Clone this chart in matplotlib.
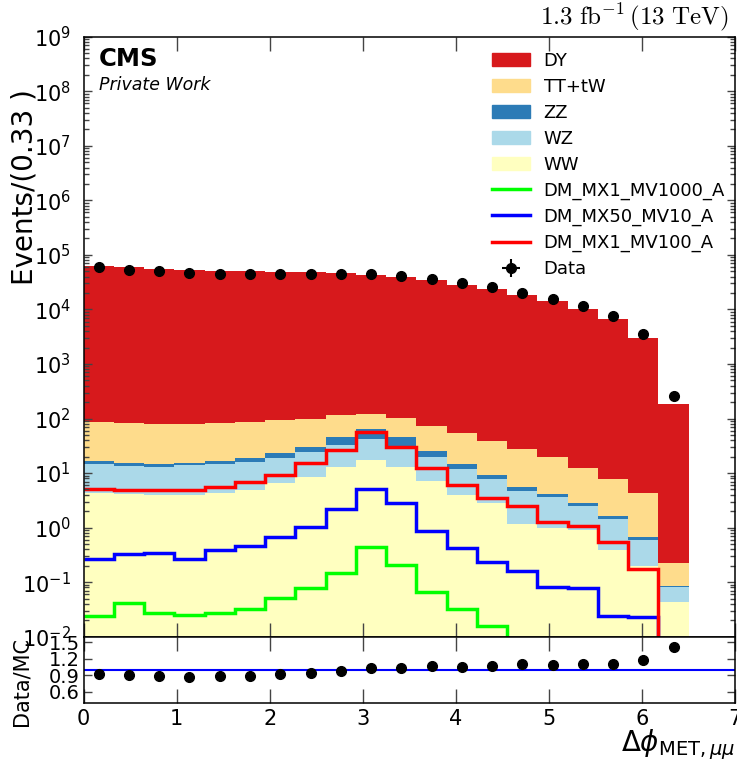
import numpy as np
import matplotlib
matplotlib.use('Agg')
import matplotlib.pyplot as plt
from matplotlib.patches import Patch
from matplotlib.lines import Line2D
from matplotlib.ticker import LogLocator, NullFormatter, FixedLocator

# binning of delta phi(MET, mumu)
edges = np.linspace(0.0, 6.5, 21)

# stacked backgrounds (events / bin)
dy = [63700, 59100, 55800, 53800, 50800, 50500, 48800, 47500, 46400, 42700,
      39500, 33900, 28450, 23460, 18270, 14480, 10290, 6740, 2956, 184]
tt = [68.4, 66.5, 63.4, 64.5, 67.4, 68.9, 69.6, 68.5, 69.0, 59.6,
      55.7, 47.7, 38.8, 29.5, 22.0, 15.6, 9.6, 6.3, 3.6, 0.14]
zz = [1.9, 1.6, 1.5, 1.6, 2.1, 2.4, 3.9, 6.2, 11.8, 20.7,
      14.0, 5.9, 2.7, 1.5, 0.86, 0.54, 0.31, 0.17, 0.088, 0.004]
wz = [10.3, 9.3, 9.2, 9.9, 10.1, 11.3, 12.6, 15.7, 20.5, 25.3,
      18.3, 12.25, 8.04, 4.91, 3.53, 2.61, 1.63, 1.07, 0.387, 0.037]
ww = [4.4, 4.2, 3.9, 4.0, 4.4, 4.9, 6.5, 8.6, 12.7, 17.4,
      12.7, 7.15, 3.96, 2.79, 1.16, 0.98, 0.89, 0.389, 0.198, 0.044]

# signal samples
sig_mx1_mv1000 = [0.0237, 0.041, 0.0269, 0.0247, 0.0276, 0.0327, 0.052, 0.077, 0.149, 0.448,
                  0.206, 0.065, 0.0322, 0.0157, 0, 0, 0, 0, 0, 0]
sig_mx50_mv10 = [0.262, 0.328, 0.347, 0.27, 0.389, 0.467, 0.664, 1.04, 2.16, 5.17,
                 2.79, 0.879, 0.429, 0.238, 0.16, 0.0827, 0.078, 0.024, 0.0233, 0]
sig_mx1_mv100 = [5.18, 4.96, 4.9, 4.96, 5.47, 6.76, 9.2, 15.1, 26.5, 55.8,
                 30.5, 12.2, 5.96, 3.44, 2.49, 1.28, 1.09, 0.537, 0.174, 0]

# observed data
data = [59300, 53600, 50000, 47200, 45200, 45200, 45200, 45200, 45300, 44000,
        41200, 36200, 30200, 25300, 20200, 15800, 11350, 7480, 3480, 259]

bkg_names = ['WW', 'WZ', 'ZZ', 'TT+tW', 'DY']
bkg_vals = [ww, wz, zz, tt, dy]
bkg_colors = ['#ffffc0', '#abd9e9', '#2c7bb6', '#fedc8c', '#d7191c']

sig_names = ['DM_MX1_MV1000_A', 'DM_MX50_MV10_A', 'DM_MX1_MV100_A']
sig_vals = [sig_mx1_mv1000, sig_mx50_mv10, sig_mx1_mv100]
sig_colors = ['#00ff00', '#0000ff', '#ff0000']

centers = 0.5 * (edges[1:] + edges[:-1])
data = np.array(data, dtype=float)

fig = plt.figure(figsize=(7.37, 7.65), dpi=100)
ax = fig.add_axes([0.1134, 0.1677, 0.8843, 0.7843])
ax2 = fig.add_axes([0.1134, 0.0810, 0.8843, 0.0867])

ax.set_yscale('log')
bottom = np.zeros(len(centers))
for vals, col in zip(bkg_vals, bkg_colors):
    top = bottom + np.array(vals)
    ax.stairs(top, edges, baseline=bottom.copy(), fill=True, color=col, lw=0)
    bottom = top
mc_total = bottom

for vals, col in zip(sig_vals, sig_colors):
    ax.stairs(vals, edges, baseline=None, color=col, lw=2.5)

ax.errorbar(centers, data, yerr=np.sqrt(data), xerr=np.zeros(len(centers)),
            fmt='o', color='k', ms=7, lw=1.5, capsize=0)

ax.set_xlim(0, 7)
ax.set_ylim(1e-2, 1e9)
ax.yaxis.set_major_locator(LogLocator(base=10, numticks=20))
ax.yaxis.set_minor_locator(LogLocator(base=10, subs=np.arange(2, 10), numticks=20))
ax.yaxis.set_minor_formatter(NullFormatter())
ax.set_xticks(range(8))
ax.tick_params(labelbottom=False)

for a in (ax, ax2):
    a.tick_params(which='both', direction='in', top=True, right=True, colors='#444444', width=1)
    a.tick_params(axis='x', which='major', length=10, labelcolor='k')
    a.tick_params(axis='y', which='major', length=6, labelcolor='k')
    a.tick_params(axis='y', which='minor', length=3.5)
    for s in a.spines.values():
        s.set_linewidth(1.1)
ax.tick_params(axis='y', which='major', labelsize=15, pad=9)

# legend
handles = [Patch(color=c) for c in bkg_colors[::-1]]
handles += [Line2D([], [], color=c, lw=2.5) for c in sig_colors]
eb = ax.errorbar([], [], yerr=[], xerr=[], fmt='o', color='k', ms=7, lw=1.5)
handles.append(eb)
labels = bkg_names[::-1] + sig_names + ['Data']
ax.legend(handles, labels, loc='upper left', bbox_to_anchor=(0.616, 0.987),
          frameon=False, fontsize=13, handlelength=2.1, handletextpad=0.75,
          labelspacing=0.44, borderaxespad=0)

ax.text(0.0236, 0.983, 'CMS', transform=ax.transAxes, fontsize=17.5,
        fontweight='bold', va='top', ha='left')
ax.text(0.0236, 0.935, 'Private Work', transform=ax.transAxes, fontsize=12.5,
        style='italic', va='top', ha='left')
fig.text(729 / 737, 1 - 24 / 765, r'$1.3\ \mathrm{fb}^{-1}\,(13\ \mathrm{TeV})$',
         ha='right', va='baseline', fontsize=18, math_fontfamily='cm')

ax.set_ylabel('Events/(0.33 )', fontsize=20)
ax.yaxis.set_label_coords(-0.069, 0.75)

# ratio panel
ratio = data / mc_total
ax2.errorbar(centers, ratio, yerr=np.sqrt(data) / mc_total, fmt='o', color='k',
             ms=7, lw=1.5, capsize=0)
ax2.axhline(1.0, color='#0000ff', lw=1.5)
ax2.set_xlim(0, 7)
ax2.set_ylim(0.4, 1.6)
ax2.yaxis.set_major_locator(FixedLocator([0.6, 0.9, 1.2, 1.5]))
ax2.set_xticks(range(8))
ax2.tick_params(axis='x', labelsize=15, pad=4)
ax2.tick_params(axis='y', labelsize=14, pad=2.5)
ax2.set_ylabel('Data/MC', fontsize=15)
ax2.yaxis.set_label_coords(-0.08, 0.33)
ax2.set_xlabel(r'$\Delta\phi_{\mathrm{MET},\mu\mu}$', fontsize=20, ha='right')
ax2.xaxis.set_label_coords(1.0, -0.37)

fig.savefig('out.png', dpi=100)
